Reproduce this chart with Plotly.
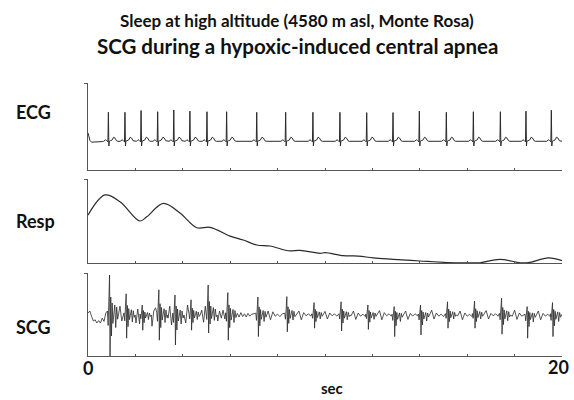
import plotly.graph_objects as go

# ---------------- data ----------------
# ECG: R-peak times (s) and R amplitudes (arbitrary units)
ecg_beat_times = [0.86, 1.56, 2.24, 2.94, 3.62, 4.30, 5.02, 5.85, 7.12, 8.34,
                  9.49, 10.63, 11.76, 12.87, 13.98, 15.12, 16.26, 17.40, 18.48, 19.55]
ecg_r_amp = [0.99, 0.99, 1.05, 1.01, 1.07, 1.03, 1.01, 1.01, 0.99, 0.99,
             0.99, 0.99, 0.98, 0.98, 1.03, 0.99, 1.01, 1.01, 1.03, 1.06]
# one beat (offset from R in s, value); the R value itself is taken from ecg_r_amp
ecg_beat_offsets = [-0.20, -0.15, -0.12, -0.08, -0.04, -0.02, 0.0, 0.02, 0.04, 0.08, 0.15, 0.22, 0.28, 0.34, 0.40]
ecg_beat_values = [-0.01, 0.02, 0.04, 0.02, 0.0, -0.03, 1.0, -0.17, -0.01, 0.01, 0.03, 0.13, 0.10, 0.01, -0.01]
# start-up artefact of the ECG trace
ecg_start_t = [0.0, 0.03, 0.08, 0.15, 0.25, 0.40, 0.60]
ecg_start_v = [0.28, 0.15, 0.02, -0.04, -0.04, -0.03, -0.02]

# Respiration (time s, amplitude)
resp_t = [0.0, 0.72, 1.35, 2.19, 2.48, 3.18, 3.88, 4.59, 5.15, 5.99, 6.55, 7.12, 7.68,
          8.45, 8.95, 9.79, 10.0, 10.77, 11.41, 12.04, 12.88, 14.01, 15.14, 15.98,
          16.54, 17.38, 18.23, 18.58, 19.43, 20.0]
resp_v = [0.57, 0.81, 0.73, 0.50, 0.55, 0.71, 0.595, 0.42, 0.425, 0.32, 0.274, 0.214, 0.202,
          0.146, 0.151, 0.115, 0.123, 0.087, 0.083, 0.060, 0.044, 0.024, 0.006, 0.002,
          0.003, 0.044, 0.003, 0.004, 0.060, 0.027]

# SCG: complex times (s), upward / downward amplitudes per beat
scg_beat_times = [0.91, 1.61, 2.29, 2.99, 3.67, 4.35, 5.07, 5.90, 7.17, 8.39,
                  9.54, 10.68, 11.81, 12.92, 14.03, 15.17, 16.31, 17.45, 18.53, 19.60]
scg_up = [1.00, 0.53, 0.25, 0.63, 0.50, 0.38, 0.75, 0.56, 0.45, 0.46,
          0.31, 0.33, 0.25, 0.21, 0.25, 0.33, 0.35, 0.42, 0.21, 0.31]
scg_down = [1.05, 0.58, 0.38, 0.63, 0.75, 0.38, 0.45, 0.63, 0.54, 0.42,
            0.33, 0.40, 0.36, 0.54, 0.50, 0.33, 0.33, 0.48, 0.58, 0.54]
# normalised complex shape (offset s, value)
scg_cx_offsets = [-0.09, -0.06, -0.03, 0.0, 0.02, 0.05, 0.08, 0.11, 0.14, 0.18,
                  0.22, 0.26, 0.30, 0.34, 0.38]
scg_cx_values = [0.10, -0.25, 0.30, 1.0, -1.0, 0.45, -0.50, 0.30, -0.20, 0.10,
                 0.25, -0.30, 0.20, -0.10, 0.0]
# background activity, 0-6.9 s every 0.075 s
scg_bg_early = [0.05, 0.10, -0.03, -0.15, -0.12, -0.20, -0.14, -0.20, -0.08, -0.16, 0.05, -0.12,
                0.18, -0.22, 0.25, -0.18, 0.10, -0.20, 0.22, -0.15, 0.05, -0.18,
                0.20, -0.25, 0.12, -0.10, 0.24, -0.20, 0.15, -0.22, 0.08, 0.18,
                -0.25, 0.20, -0.12, 0.22, -0.28, 0.10, 0.18, -0.20, 0.25, -0.15,
                0.12, -0.25, 0.20, -0.08, 0.22, -0.25, 0.15, -0.18, 0.26, -0.12,
                0.05, -0.22, 0.18, -0.20, 0.25, -0.15, 0.10, -0.24, 0.20, -0.10,
                0.18, -0.22, 0.12, -0.18, 0.22, -0.14, 0.08, -0.20, 0.15, -0.10,
                0.12, -0.15, 0.10, -0.08, 0.12, -0.10, 0.06, -0.08, 0.10, -0.05,
                0.06, -0.08, 0.04, -0.05, 0.06, -0.04, 0.03, -0.05, 0.04, -0.03, 0.02]
# background activity, 7-20 s every 0.1 s
scg_bg_late = [0.03, -0.02, 0.02, -0.03, 0.04, -0.02, 0.10, -0.12, 0.08, -0.03,
               0.02, -0.04, 0.03, -0.02, 0.04, -0.03, 0.02, -0.02, 0.03, 0.10,
               -0.12, 0.06, -0.02, 0.03, -0.03, 0.02, -0.04, 0.03, -0.02, 0.02,
               0.09, -0.10, 0.05, -0.02, 0.03, -0.03, 0.04, -0.02, 0.02, -0.03,
               0.03, -0.02, 0.10, -0.11, 0.05, -0.03, 0.02, -0.04, 0.03, -0.02,
               0.04, -0.03, 0.02, 0.11, -0.12, 0.06, -0.02, 0.03, -0.03, 0.02,
               -0.04, 0.03, -0.02, 0.02, 0.10, -0.11, 0.04, -0.03, 0.03, -0.02,
               0.04, -0.03, 0.02, -0.02, 0.03, 0.12, -0.10, 0.05, -0.03, 0.02,
               -0.04, 0.03, -0.02, 0.04, -0.03, 0.02, -0.02, 0.10, -0.12, 0.05,
               -0.03, 0.02, -0.04, 0.03, -0.02, 0.03, -0.03, 0.02, 0.11, -0.10,
               0.04, -0.02, 0.03, -0.03, 0.02, -0.04, 0.03, -0.02, 0.02, -0.03,
               0.12, -0.11, 0.05, -0.03, 0.02, -0.03, 0.04, -0.02, 0.03, -0.02,
               0.10, -0.12, 0.04, -0.03, 0.02, -0.04, 0.03, -0.02, 0.10, -0.08, 0.02]

x_tick_vals = [0, 2, 4, 6, 8, 10, 12, 14, 16, 18, 20]
x_labels = ["0", "20"]
panel_labels = ["ECG", "Resp", "SCG"]
title_lines = ["Sleep at high altitude (4580 m asl, Monte Rosa)",
               "SCG during a hypoxic-induced central apnea"]
x_title = "sec"

# ---------------- assemble traces ----------------
ecg_t = list(ecg_start_t)
ecg_v = list(ecg_start_v)
for bt, amp in zip(ecg_beat_times, ecg_r_amp):
    for off, val in zip(ecg_beat_offsets, ecg_beat_values):
        ecg_t.append(bt + off)
        ecg_v.append(amp if off == 0.0 else val)
ecg_t.append(20.0)
ecg_v.append(-0.01)

win_lo, win_hi = scg_cx_offsets[0], scg_cx_offsets[-1]


def in_window(t):
    return any(bt + win_lo <= t <= bt + win_hi for bt in scg_beat_times)


pts = []
for i, v in enumerate(scg_bg_early):
    t = 0.075 * i
    if t < 7.0 and not in_window(t):
        pts.append((t, v))
for i, v in enumerate(scg_bg_late):
    t = 7.0 + 0.1 * i
    if t <= 20.0 + 1e-9 and not in_window(t):
        pts.append((t, v))
for bt, up, dn in zip(scg_beat_times, scg_up, scg_down):
    for off, val in zip(scg_cx_offsets, scg_cx_values):
        t = bt + off
        if t <= 20.0:
            pts.append((t, val * up if val > 0 else val * dn))
pts.sort()
scg_t = [p[0] for p in pts]
scg_v = [p[1] for p in pts]

# ---------------- figure ----------------
W, H = 574, 400
X0, X1 = 88, 562
panels = [(83, 170, [-1.0, 2.0]), (179, 263, [0.0, 1.0]), (273, 356, [-1.025, 1.05])]
line_col = "#2a2a2a"
axis_col = "#555555"

fig = go.Figure()
traces = [(ecg_t, ecg_v, 1.0, "linear"), (resp_t, resp_v, 1.2, "spline"), (scg_t, scg_v, 0.8, "linear")]
for k, (tx, ty, lw, shape) in enumerate(traces):
    suffix = "" if k == 0 else str(k + 1)
    fig.add_trace(go.Scatter(x=tx, y=ty, mode="lines", xaxis="x" + suffix, yaxis="y" + suffix,
                             line=dict(color=line_col, width=lw, shape=shape),
                             hoverinfo="skip", showlegend=False))

layout = dict(width=W, height=H, margin=dict(l=0, r=0, t=0, b=0),
              paper_bgcolor="white", plot_bgcolor="white", showlegend=False)
for k, (top, bot, yr) in enumerate(panels):
    suffix = "" if k == 0 else str(k + 1)
    layout["xaxis" + suffix] = dict(domain=[X0 / W, X1 / W], range=[0, 20], anchor="y" + suffix,
                                    showline=True, linecolor=axis_col, linewidth=1,
                                    ticks="inside", ticklen=2, tickcolor=axis_col,
                                    tickvals=x_tick_vals, showticklabels=False,
                                    showgrid=False, zeroline=False, fixedrange=True)
    layout["yaxis" + suffix] = dict(domain=[1 - bot / H, 1 - top / H], range=yr, anchor="x" + suffix,
                                    showline=True, linecolor=axis_col, linewidth=1,
                                    ticks="outside", ticklen=3, tickcolor=axis_col,
                                    tickvals=[yr[1]], showticklabels=False,
                                    showgrid=False, zeroline=False, fixedrange=True)
fig.update_layout(**layout)

FONT = "Lato, 'Open Sans', sans-serif"


def ann(text, x, y, size, xanchor="center"):
    fig.add_annotation(text="<b>" + text + "</b>", x=x / W, y=1 - y / H, xref="paper", yref="paper",
                       xanchor=xanchor, yanchor="middle", showarrow=False,
                       font=dict(family=FONT, size=size, color="#111111"))


ann(title_lines[0], 297, 21, 17)
ann(title_lines[1], 297, 46, 20.5)
label_y = [112, 221, 327]
for lab, yy in zip(panel_labels, label_y):
    ann(lab, 14, yy, 18, xanchor="left")
ann(x_labels[0], 88, 368, 18)
ann(x_labels[1], 558, 367, 18)
ann(x_title, 332, 388, 15)

fig.write_html("out.html")
